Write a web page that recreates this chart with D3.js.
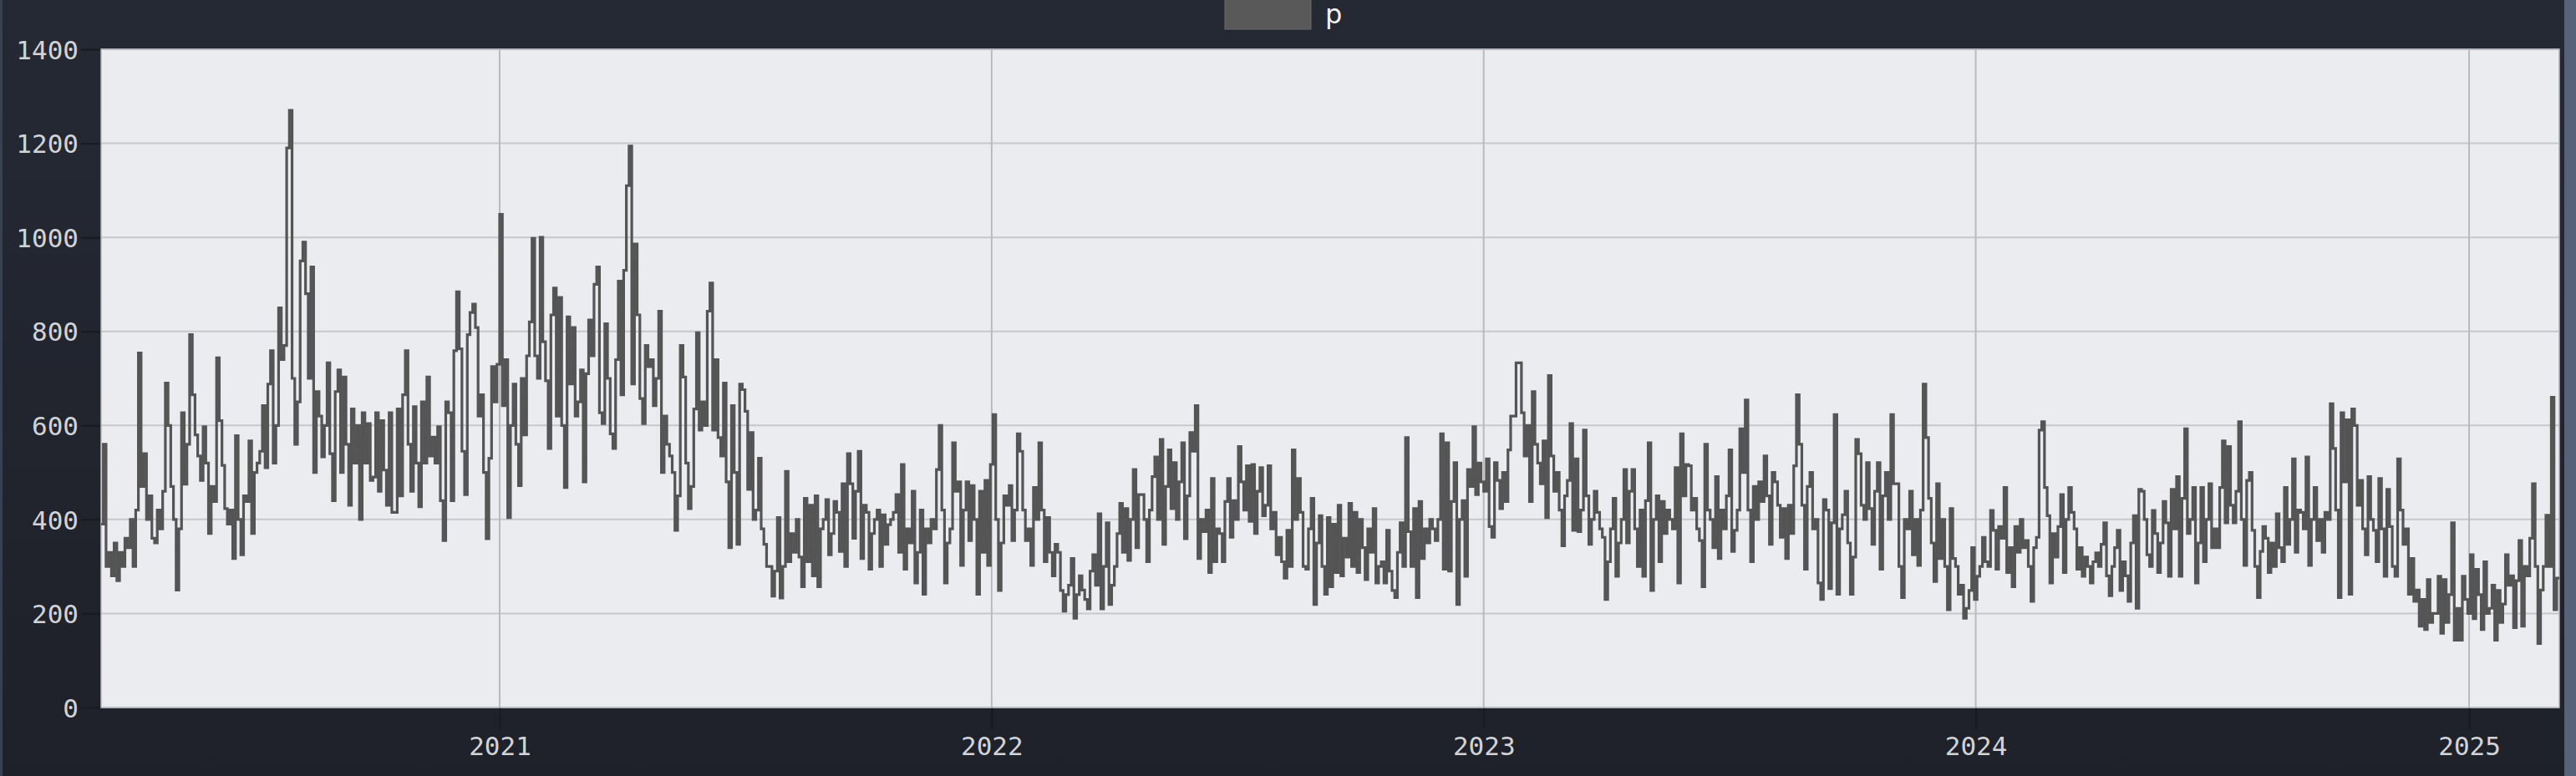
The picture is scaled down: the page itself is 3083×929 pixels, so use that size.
<!DOCTYPE html>
<html><head><meta charset="utf-8">
<script src="https://cdn.jsdelivr.net/npm/d3@7"></script>
<style>
html,body{margin:0;padding:0;background:#21252e;overflow:hidden;}
svg{display:block;}
</style></head><body>
<svg id="chart" width="3083" height="929"></svg>
<script>
// ---------- data ----------
const seriesName = "p";
const startDate = "2020-03-11";   // first step
const stepDays = 2;               // each value covers two days
const yTickValues = [0, 200, 400, 600, 800, 1000, 1200, 1400];
const xTickYears = ["2021", "2022", "2023", "2024", "2025"];
const xDomain = ["2020-03-11T08:00", "2025-03-08T22:00"];
const yDomain = [0, 1400];

const values2020a = [390,560,300,330,280,350,270,330,300,360, 340,400,300,420,754,470,540,400,450,360,
 350,420,380,460,690,600,470,400,250,380, 627,475,560,793,665,580,535,483,597,520,
 370,470,438,744,610,515,423,390,420,317, 578,400,325,450,438,567,370,500,520,545,
 642,510,688,759,520,600,850,740,770,1190, 1270,700,560,650,950,990,880,700,937,500,
 672,620,533,600,733,540,440,672,718,500, 703,560,430,635,520,600,400,627,520,
 604,483,490,627,460,610,505,430,627,415, 415,635,450,665,759,560,460,640,520,427,
 650,520,703,535,575,520,597,440,355,650, 627,440,759,884,763,545,453,793,840,858,
 808,620,665,500,359,530,725,650,730,1049, 642,740,404,600,688,560,472,700,580,748,
 820,998,748,700,1000,778,695,551,835,892, 620,872,600,468,831,688,808,620,650,718,
 480,710,824,748,900,937,627,604,816,700, 582,551,740,907,665,930,1110,1194,688,
 986,835,657,604,770,725,740,642,700,843, 500,620,560,535,500,377,450,770,703,520,
 423,470,635,797,590,650,600,843,903,590, 740,574,535,690,480,340,642,500,347,688,
 676,630,464,585,400,420,530,380,347,300, 300,237,290,404,233,300,502,310,370,330,
 400,320,257,445,310,430,280,450,257,380, 400,442,325,370,438,415,332,476,300,540,
 476,360,460,545,317,430,415,294,370,400, 420,300,410,347,389,400,415,453,330,
 517,294,380,350,460,265,330,420,241,380,350,400,380];

const values2021b = [506,600,420,265,350,380,
 563,460,480,302,420,480,355,472,400,241, 460,330,483,302,517,623,400,249,350,450,
 430,472,355,420,582,545,420,355,380,302, 468,400,563,420,310,404,330,280,347,330,
 249,205,240,260,317,190,240,280,250,230, 210,290,325,260,412,210,300,393,219,260,
 300,370,434,330,423,313,400,506,340,453, 453,400,310,420,491,533,400,570,347,470,
 548,423,521,400,480,563,359,450,585, 545,642,317,400,374,420,287,487,310,380,
 370,310,438,487,362,440,400,555,480,420, 514,396,517,370,460,510,408,430,514,380,
 415,325,362,310,275,377,300,548,400,487, 415,300,294,380,445,219,350,408,300,241,
 404,257,390,287,430,280,360,320,434,300, 415,287,400,340,272,380,330,423,265,300,
 310,265,377,290,249,234,330,393,300,574, 374,300,423,234,438,317,380,350,400,380,
 355,400,582,294,563,290,438,521,219, 400,440,279,506,470,597,453,520,480,460,
 529,385,362,521,483,423,500,438,548,620, 620,733,733,627,535,600,438,672,560,520,
 476,567,404,706,535,460,500,420,344,450, 483,604,377,529,374,420,590,450,347,400,
 460,415,380,362,230,310,380,445,279,350, 400,506,350,460,506,380,300,420,279,440,
 563,249,400,450,310,438,370,420,400,380, 510,265,582,450,517,514,420,445,380,
 355,257,560,420,400,340,491,317,420,380,
 450,548,332,377,420,593,500,654,420,310,470,400,480];

const values2023c = [438,535,450,347,500,480,430,362,423,317, 430,370,514,665,560,430,294,470,500,380,
 400,265,230,442,420,253,393,623,241,380, 410,460,350,241,320,570,540,430,400,521,
 423,347,460,521,294,450,500,400,623,476, 476,300,234,400,380,460,325,400,302,420,
 688,574,445,350,268,476,317,400,300,208, 423,317,300,241,260,190,211,249,340,230,
 279,300,362,310,300,419,377,294,385,360, 468,287,340,257,385,330,400,340,355,300,
 226,340,362,590,608,468,408,265,370,320, 385,453,287,400,468,415,380,294,340,279,
 320,300,265,310,329,300,347,393,280,238, 300,340,377,249,310,280,226,350,408,211,
 464,460,400,325,300,419,370,287,350,438, 393,279,464,380,491,279,445,593,370,400,
 468,265,350,468,310,400,476,340,380,340, 468,567,393,555,430,393,460,608,400,302,
 483,500,377,300,234,332,385,360,287,350, 300,412,340,310,468,347,400,529,330,420,
 415,380,533,302,400,468,355,400,330,415, 400,646,551,420,234,627,480,612,241,635,
 600,430,483,380,325,491,400,377,310,487, 380,279,464,385,300,279,529,420,347,380,
 241,317,226,250,173,230,166,272,181,200, 200,279,158,272,181,240,393,143,211,143,
 279,230,200,325,189,294,240,166,310,200, 211,260,143,249,181,220,325,260,280,170,
 270,355,173,300,280,360,476,300,136,250,300,409,300,660,208,275];

const values = values2020a.concat(values2021b, values2023c);

// ---------- layout ----------
const W = 3083, H = 929;
const plot = {left: 121, right: 3063, top: 59, bottom: 847};

const parse = d3.utcParse("%Y-%m-%d");
const parseT = d3.utcParse("%Y-%m-%dT%H:%M");
const parseY = d3.utcParse("%Y");
const t0 = parse(startDate);
const data = values.map((v, i) => ({date: d3.utcDay.offset(t0, i * stepDays), value: v}));
data.push({date: d3.utcDay.offset(t0, values.length * stepDays), value: values[values.length - 1]});

const x = d3.scaleUtc().domain(xDomain.map(parseT)).range([plot.left, plot.right]);
const y = d3.scaleLinear().domain(yDomain).range([plot.bottom, plot.top]);

const svg = d3.select("#chart");
const defs = svg.append("defs");
const grad = defs.append("linearGradient").attr("id", "bg").attr("x1", 0).attr("y1", 0).attr("x2", 0).attr("y2", 1);
grad.append("stop").attr("offset", "0%").attr("stop-color", "#252934");
grad.append("stop").attr("offset", "100%").attr("stop-color", "#1e2129");
defs.append("clipPath").attr("id", "clip").append("rect")
  .attr("x", plot.left).attr("y", plot.top)
  .attr("width", plot.right - plot.left).attr("height", plot.bottom - plot.top);

svg.append("rect").attr("width", W).attr("height", H).attr("fill", "url(#bg)");
svg.append("rect").attr("x", 0).attr("y", 0).attr("width", 3).attr("height", H).attr("fill", "#394051");
svg.append("rect").attr("x", 3069).attr("y", 0).attr("width", W - 3069).attr("height", H).attr("fill", "#56627a");

// plot background
svg.append("rect")
  .attr("x", plot.left).attr("y", plot.top)
  .attr("width", plot.right - plot.left).attr("height", plot.bottom - plot.top)
  .attr("fill", "#ebecf0");

// grid
const yearDates = xTickYears.map(parseY);
svg.append("g").selectAll("line").data(yTickValues).join("line")
  .attr("x1", plot.left).attr("x2", plot.right)
  .attr("y1", d => y(d)).attr("y2", d => y(d))
  .attr("stroke", "#c6c7cb").attr("stroke-width", 2);
svg.append("g").selectAll("line").data(yearDates).join("line")
  .attr("x1", d => x(d)).attr("x2", d => x(d))
  .attr("y1", plot.top).attr("y2", plot.bottom)
  .attr("stroke", "#b9babe").attr("stroke-width", 2);

// axes
const tickFont = "'DejaVu Sans Mono', 'Liberation Mono', monospace";
const yAxis = svg.append("g").attr("transform", `translate(${plot.left},0)`)
  .call(d3.axisLeft(y).tickValues(yTickValues).tickSize(24).tickPadding(3).tickFormat(d3.format("d")));
yAxis.select(".domain").remove();
yAxis.selectAll(".tick line").attr("stroke", "#171a21").attr("stroke-width", 2);
yAxis.selectAll(".tick text").attr("fill", "#d2d3d6").attr("font-family", tickFont)
  .attr("font-size", 31).attr("dy", "0.36em");

const xAxis = svg.append("g").attr("transform", `translate(0,${plot.bottom})`)
  .call(d3.axisBottom(x).tickValues(yearDates).tickSize(26).tickFormat(d3.utcFormat("%Y")));
xAxis.select(".domain").remove();
xAxis.selectAll(".tick line").attr("stroke", "#171a21").attr("stroke-width", 2);
xAxis.selectAll(".tick text").attr("fill", "#d2d3d6").attr("font-family", tickFont)
  .attr("font-size", 31).attr("y", 57).attr("dy", 0);

// plot border
svg.append("rect")
  .attr("x", plot.left).attr("y", plot.top)
  .attr("width", plot.right - plot.left).attr("height", plot.bottom - plot.top)
  .attr("fill", "none").attr("stroke", "#b3b5ba").attr("stroke-width", 1.5);

// series
const line = d3.line().x(d => x(d.date)).y(d => y(d.value)).curve(d3.curveStepAfter);
svg.append("path").datum(data)
  .attr("clip-path", "url(#clip)")
  .attr("fill", "none").attr("stroke", "#545454").attr("stroke-width", 3.2)
  .attr("stroke-linejoin", "miter")
  .attr("d", line);

// legend
const legend = svg.append("g");
legend.append("rect").attr("x", 1466).attr("y", -10).attr("width", 103).attr("height", 45)
  .attr("fill", "#595959").attr("stroke", "#6a6a6a").attr("stroke-width", 1);
legend.append("text").attr("x", 1586).attr("y", 28).text(seriesName)
  .attr("fill", "#f2f2f2").attr("font-family", "'DejaVu Sans', sans-serif").attr("font-size", 32);
</script>
</body></html>
